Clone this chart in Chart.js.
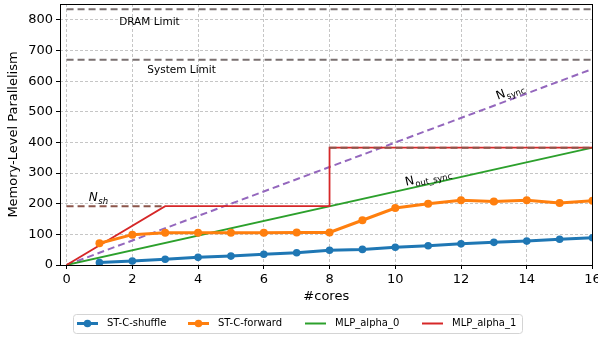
<!DOCTYPE html>
<html><head><meta charset="utf-8">
<script src="https://cdn.jsdelivr.net/npm/chart.js@4/dist/chart.umd.min.js"></script>
<style>html,body{margin:0;padding:0;background:#fff;}#wrap{width:598px;height:337px;}</style>
</head><body><div id="wrap"><canvas id="c" width="598" height="337"></canvas></div>
<script>
// ---- data ----
const cores = [1,2,3,4,5,6,7,8,9,10,11,12,13,14,15,16];
const stcShuffle = [8,13,19,25,29,35,40,48,51,58,63,69,74,78,84,89];
const stcForward = [71,99,105,105,105,105,106,106,146,186,200,211,207,211,202,210];
const mlpAlpha0X = [0,16];
const mlpAlpha0Y = [0,383];
const mlpAlpha1X = [0,3,8,8,16];
const mlpAlpha1Y = [0,192,192,383,383];
const nSyncX = [0,16];
const nSyncY = [0,640];
const nShLowX = [0,3];
const nShLowY = [192,192];
const nShHighX = [8,16];
const nShHighY = [383,383];
const dramLimit = 835;
const systemLimit = 670;
const limitX = [0,16];
const xTicks = [0,2,4,6,8,10,12,14,16];
const yTicks = [0,100,200,300,400,500,600,700,800];
const legendLabels = ['ST-C-shuffle','ST-C-forward','MLP_alpha_0','MLP_alpha_1'];

const pts = (xs, ys) => xs.map((x,i)=>({x:x, y:ys[i]}));
const FONT = '"DejaVu Sans", sans-serif';
const C = {blue:'#1f77b4', orange:'#ff7f0e', green:'#2ca02c', red:'#d62728', purple:'#9467bd', brown:'#8c564b', gray:'#7a7070'};

const datasets = [
  {label:legendLabels[0], data:pts(cores, stcShuffle), borderColor:C.blue, backgroundColor:C.blue, borderWidth:3, pointRadius:3.8, pointBorderWidth:0},
  {label:legendLabels[1], data:pts(cores, stcForward), borderColor:C.orange, backgroundColor:C.orange, borderWidth:3, pointRadius:4, pointBorderWidth:0},
  {label:'N_sh low', data:pts(nShLowX, nShLowY), borderColor:C.brown, borderWidth:2, borderDash:[7,4], pointRadius:0},
  {label:'N_sh high', data:pts(nShHighX, nShHighY), borderColor:C.brown, borderWidth:2, borderDash:[7,4], pointRadius:0},
  {label:legendLabels[3], data:pts(mlpAlpha1X, mlpAlpha1Y), borderColor:C.red, borderWidth:1.8, pointRadius:0},
  {label:legendLabels[2], data:pts(mlpAlpha0X, mlpAlpha0Y), borderColor:C.green, borderWidth:1.8, pointRadius:0},
  {label:'N_sync', data:pts(nSyncX, nSyncY), borderColor:C.purple, borderWidth:2, borderDash:[7,4], pointRadius:0},
  {label:'DRAM Limit', data:pts(limitX, [dramLimit,dramLimit]), borderColor:C.gray, borderWidth:2, borderDash:[7,4], pointRadius:0},
  {label:'System Limit', data:pts(limitX, [systemLimit,systemLimit]), borderColor:C.gray, borderWidth:2, borderDash:[7,4], pointRadius:0}
];

function drawSubText(ctx, main, sub, cx, cy, angle, mainFont, subFont) {
  ctx.save();
  ctx.translate(cx, cy);
  ctx.rotate(angle);
  ctx.font = mainFont;
  const w1 = ctx.measureText(main).width;
  ctx.font = subFont;
  const w2 = ctx.measureText(sub).width;
  const total = w1 + w2 + 0.5;
  ctx.fillStyle = '#000';
  ctx.textBaseline = 'alphabetic';
  ctx.textAlign = 'left';
  ctx.font = mainFont;
  ctx.fillText(main, -total/2, 4);
  ctx.font = subFont;
  ctx.fillText(sub, -total/2 + w1 + 0.5, 7);
  ctx.restore();
}

const decor = {
  id:'decor',
  afterDatasetsDraw(chart) {
    const {ctx, chartArea:a, scales:{x, y}} = chart;
    ctx.save();
    ctx.strokeStyle = '#000'; ctx.lineWidth = 1; ctx.setLineDash([]);
    ctx.strokeRect(Math.round(a.left)+0.5, Math.round(a.top)+0.5, Math.round(a.right-a.left)-1, Math.round(a.bottom-a.top));
    ctx.restore();
    ctx.save();
    ctx.fillStyle = '#000';
    ctx.font = '10.5px ' + FONT;
    ctx.textAlign = 'center'; ctx.textBaseline = 'middle';
    ctx.fillText('DRAM Limit', x.getPixelForValue(2.52), y.getPixelForValue(792));
    ctx.fillText('System Limit', x.getPixelForValue(3.5), y.getPixelForValue(636));
    ctx.restore();
    const angSync = Math.atan2(y.getPixelForValue(nSyncY[1]) - y.getPixelForValue(nSyncY[0]), x.getPixelForValue(nSyncX[1]) - x.getPixelForValue(nSyncX[0]));
    const angOut = Math.atan2(y.getPixelForValue(mlpAlpha0Y[1]) - y.getPixelForValue(mlpAlpha0Y[0]), x.getPixelForValue(mlpAlpha0X[1]) - x.getPixelForValue(mlpAlpha0X[0]));
    drawSubText(ctx, 'N', 'sync', x.getPixelForValue(13.49), y.getPixelForValue(568), angSync, '12px ' + FONT, '8.5px ' + FONT);
    drawSubText(ctx, 'N', 'out_sync', x.getPixelForValue(11.0), y.getPixelForValue(288), angOut, '12px ' + FONT, '8.5px ' + FONT);
    drawSubText(ctx, 'N', 'sh', x.getPixelForValue(0.97), y.getPixelForValue(222), 0, 'italic 12px ' + FONT, 'italic 8.5px ' + FONT);
  },
  afterDraw(chart) {
    const ctx = chart.ctx;
    ctx.save();
    const bx = 73.5, by = 314.5, bw = 449, bh = 19, r = 3;
    ctx.beginPath();
    ctx.moveTo(bx+r, by); ctx.lineTo(bx+bw-r, by); ctx.arcTo(bx+bw, by, bx+bw, by+r, r);
    ctx.lineTo(bx+bw, by+bh-r); ctx.arcTo(bx+bw, by+bh, bx+bw-r, by+bh, r);
    ctx.lineTo(bx+r, by+bh); ctx.arcTo(bx, by+bh, bx, by+bh-r, r);
    ctx.lineTo(bx, by+r); ctx.arcTo(bx, by, bx+r, by, r); ctx.closePath();
    ctx.fillStyle = '#fff'; ctx.fill();
    ctx.strokeStyle = '#d4d4d4'; ctx.lineWidth = 1; ctx.stroke();
    const items = [
      {t:legendLabels[0], c:C.blue, x:77, w:3, m:true},
      {t:legendLabels[1], c:C.orange, x:188, w:3, m:true},
      {t:legendLabels[2], c:C.green, x:305, w:2, m:false},
      {t:legendLabels[3], c:C.red, x:422, w:2, m:false}
    ];
    const ly = 323.5;
    ctx.font = '10px ' + FONT; ctx.textBaseline = 'middle'; ctx.textAlign = 'left';
    items.forEach(it => {
      ctx.strokeStyle = it.c; ctx.lineWidth = it.w;
      ctx.beginPath(); ctx.moveTo(it.x, ly); ctx.lineTo(it.x+21, ly); ctx.stroke();
      if (it.m) { ctx.fillStyle = it.c; ctx.beginPath(); ctx.arc(it.x+10.5, ly, 3.8, 0, Math.PI*2); ctx.fill(); }
      ctx.fillStyle = '#000';
      ctx.fillText(it.t, it.x+30, ly);
    });
    ctx.restore();
  }
};

new Chart(document.getElementById('c'), {
  type:'line',
  data:{datasets},
  options:{
    responsive:false, animation:false, devicePixelRatio:1,
    layout:{padding:{top:4, right:5.5, bottom:29, left:0}},
    plugins:{legend:{display:false}, tooltip:{enabled:false}},
    elements:{line:{tension:0}},
    scales:{
      x:{type:'linear', min:-0.2, max:16,
        afterBuildTicks:(s)=>{ s.ticks = xTicks.map(v=>({value:v})); },
        afterFit:(s)=>{ s.height = 43; s.paddingLeft = 0; s.paddingRight = 0; },
        ticks:{color:'#000', font:{family:FONT, size:13}, padding:3, maxRotation:0},
        grid:{color:'#b8b8b8', lineWidth:0.8, tickColor:'#000', tickLength:4, tickWidth:1, tickBorderDash:[]},
        border:{display:false, dash:[3,2]},
        title:{display:true, text:'#cores', color:'#000', font:{family:FONT, size:13}, padding:{top:2, bottom:4}}
      },
      y:{type:'linear', min:0, max:852,
        afterBuildTicks:(s)=>{ s.ticks = yTicks.map(v=>({value:v})); },
        afterFit:(s)=>{ s.width = 60; s.paddingTop = 0; s.paddingBottom = 0; },
        ticks:{color:'#000', font:{family:FONT, size:13}, padding:3},
        grid:{color:'#b8b8b8', lineWidth:0.8, tickColor:'#000', tickLength:4, tickWidth:1, tickBorderDash:[]},
        border:{display:false, dash:[3,2]},
        title:{display:true, text:'Memory-Level Parallelism', color:'#000', font:{family:FONT, size:13}, padding:{top:6, bottom:2}}
      }
    }
  },
  plugins:[decor]
});
</script></body></html>
